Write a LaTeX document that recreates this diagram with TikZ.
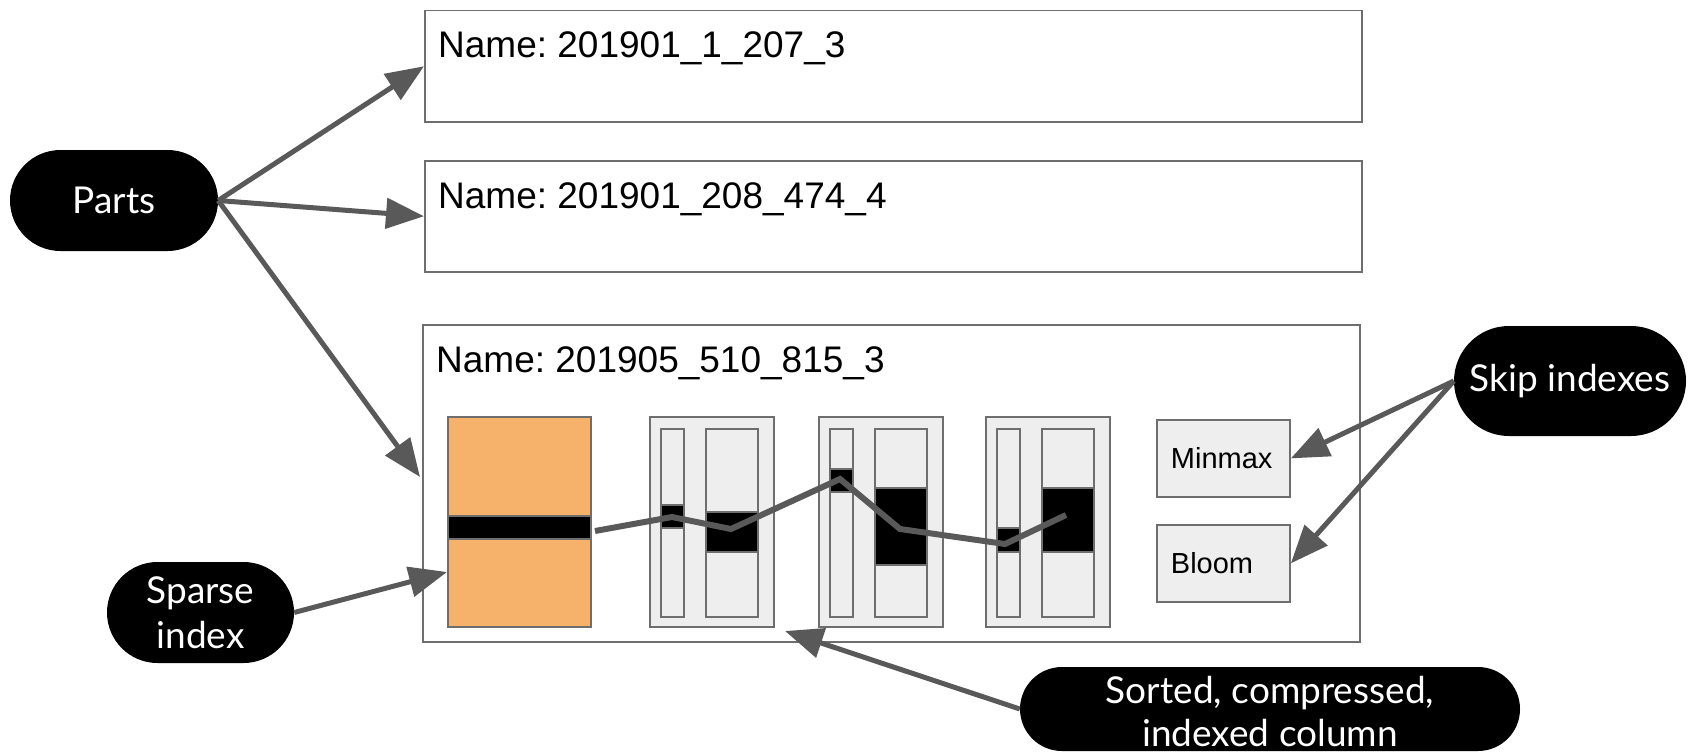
\documentclass[tikz,border=0pt]{standalone}
\usepackage{fontspec}
\setmainfont{Liberation Sans}
\newfontfamily\pillfont{Lato}
\frenchspacing
\usetikzlibrary{shapes.misc,arrows.meta}
\definecolor{orangefill}{HTML}{F6B26B}
\definecolor{cellfill}{HTML}{EEEEEE}
\definecolor{linkgray}{HTML}{595959}
\definecolor{framegray}{HTML}{6E6E6E}
\begin{document}
\begin{tikzpicture}[x=1pt,y=-1pt,
  partbox/.style={draw=framegray,line width=1.5pt,rectangle,anchor=north west,inner sep=0pt},
  namelabel/.style={anchor=base west,inner sep=0pt,font=\fontsize{37}{44}\selectfont},
  pill/.style={rounded rectangle,fill=black,text=white,inner sep=0pt,align=center,
    font=\pillfont\fontsize{37}{45}\selectfont},
  pilltext/.style={text=white,inner sep=0pt,align=center,
    font=\pillfont\fontsize{37}{43}\selectfont},
  cellbox/.style={draw=framegray,line width=1.8pt,fill=cellfill},
  idxbox/.style={draw=framegray,line width=1.8pt,fill=cellfill,anchor=north west,
    minimum width=133pt,minimum height=77pt,inner xsep=14pt,text width=105pt,align=left,
    font=\fontsize{29}{34}\selectfont},
  link/.style={draw=linkgray,line width=5pt,-{Triangle[length=38pt,width=30pt]}},
  trail/.style={draw=linkgray,line width=6pt,line join=miter},
]
\useasboundingbox (0,0) rectangle (1696,752);
\clip (0,0) rectangle (1696,752);

% data parts
\node[partbox,minimum width=937pt,minimum height=111pt] (part1) at (424,10) {};
\node[partbox,minimum width=937pt,minimum height=111pt] (part2) at (424,160) {};
\node[partbox,minimum width=937pt,minimum height=317pt] (part3) at (422,324) {};
\node[namelabel] (name1) at (438,58) {Name: 201901\_1\_207\_3};
\node[namelabel] (name2) at (438,208) {Name: 201901\_208\_474\_4};
\node[namelabel] (name3) at (436,372) {Name: 201905\_510\_815\_3};

% primary key / sparse index block
\draw[draw=framegray,line width=1.8pt,fill=orangefill] (448,417) rectangle (591,627);
\draw[draw=framegray,line width=1.5pt,fill=black] (448,516) rectangle (591,539);

% columns: marks file + data file, with the matching granules in black
\foreach \cx/\na/\nb/\wa/\wb in {650/505/528/512/552, 819/469/492/488/565, 986/528/552/488/552} {
  \draw[cellbox] (\cx,417) rectangle (\cx+124,627);
  \draw[cellbox] (\cx+11,429) rectangle (\cx+34,617);
  \draw[cellbox] (\cx+56,429) rectangle (\cx+108,617);
  \draw[draw=framegray,line width=1.5pt,fill=black] (\cx+11,\na) rectangle (\cx+34,\nb);
  \draw[draw=framegray,line width=1.5pt,fill=black] (\cx+56,\wa) rectangle (\cx+108,\wb);
}

% lookup path through the granules
\draw[trail] (595,531) -- (672,517) -- (731,529) -- (840,479) -- (900,529) -- (1005,544) -- (1066,515);

% skip index files
\node[idxbox] (minmax) at (1156,419) {Minmax};
\node[idxbox] (bloom) at (1156,524) {Bloom};

% callouts
\node[pill,minimum width=208pt,minimum height=101pt] (parts) at (114,200.5) {Parts};
\node[pill,minimum width=187pt,minimum height=101pt] (sparse) at (200.5,612.5) {Sparse\\index};
\node[pill,minimum width=232pt,minimum height=110pt] (skip) at (1570,381) {Skip indexes};
\node[pill,minimum width=500pt,minimum height=84pt] (sorted) at (1270,709) {};
\node[pilltext,anchor=base] (sortedtext) at (1270,746) {Sorted, compressed,\\indexed column};

\coordinate (toorange) at (420,477);
\coordinate (tosparse) at (447,572);
\coordinate (tocolumn) at (785,631);

\draw[link] (parts.east) -- (part1.west);
\draw[link] (parts.east) -- (part2.west);
\draw[link] (parts.east) -- (toorange);
\draw[link] (sparse.east) -- (tosparse);
\draw[link] (skip.west) -- (minmax.east);
\draw[link] (skip.west) -- (bloom.east);
\draw[link] (sorted.west) -- (tocolumn);
\end{tikzpicture}
\end{document}
